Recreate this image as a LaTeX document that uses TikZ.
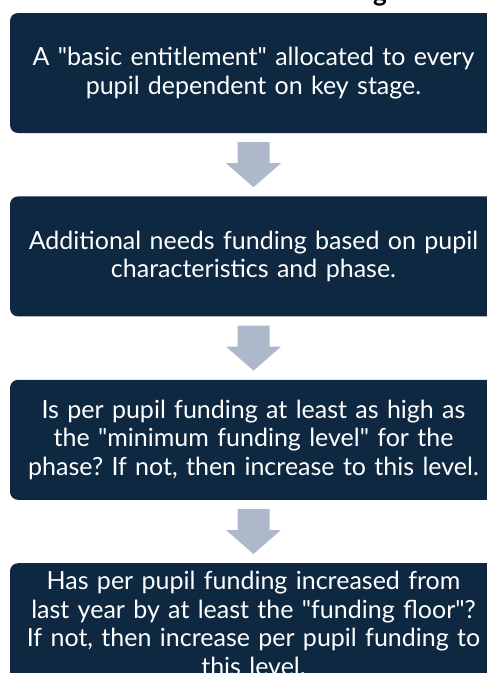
\documentclass[tikz,border=0pt]{standalone}
\usepackage{fontspec}
\setmainfont{Lato}
\usepackage{xcolor}
\usepackage{tikz}
\usetikzlibrary{positioning, calc}
\definecolor{stagecolor}{RGB}{14,40,65}
\definecolor{flowcolor}{RGB}{173,185,202}
\frenchspacing

\begin{document}
\begin{tikzpicture}[
    node distance=63pt,
    stage/.style={rectangle, fill=stagecolor, rounded corners=8pt, minimum width=487pt, minimum height=120pt, text width=475pt, align=center, text=white, font=\fontsize{25}{28.5}\selectfont},
    flow/.style={fill=flowcolor}
]
\useasboundingbox (0,0) rectangle (487pt,-673pt);

% Title (only its last descender shows)
\node[anchor=base, font=\fontsize{26}{30}\selectfont\bfseries, inner sep=0] (title) at (380pt,-1pt) {g};

% Stages
\node[stage] (entitle) at (253.5pt,-73pt) {A \textquotedbl basic entitlement\textquotedbl{} allocated to every\\pupil dependent on key stage.};
\node[stage, below=of entitle] (needs) {Additional needs funding based on pupil\\characteristics and phase.};
\node[stage, below=of needs] (minimum) {Is per pupil funding at least as high as\\the \textquotedbl minimum funding level\textquotedbl{} for the\\phase? If not, then increase to this level.};
\node[stage, below=of minimum] (floor) {Has per pupil funding increased from\\last year by at least the \textquotedbl funding floor\textquotedbl?\\If not, then increase per pupil funding to\\this level.};

% Block arrows
\foreach \a/\b in {entitle/needs, needs/minimum, minimum/floor}
    \fill[flow] ($(\a.south)+(-16pt,-9pt)$) -- ($(\a.south)+(16pt,-9pt)$)
        -- ($(\b.north)+(16pt,33pt)$) -- ($(\b.north)+(27.5pt,33pt)$)
        -- ($(\b.north)+(0,9pt)$)
        -- ($(\b.north)+(-27.5pt,33pt)$) -- ($(\b.north)+(-16pt,33pt)$) -- cycle;

\end{tikzpicture}
\end{document}
